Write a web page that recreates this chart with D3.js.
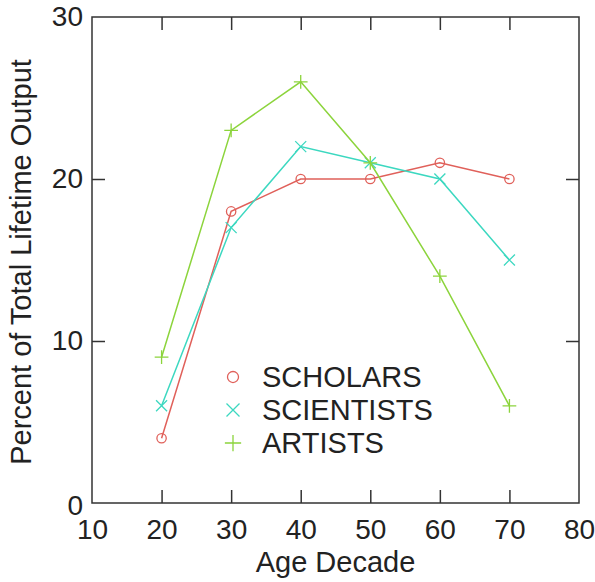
<!DOCTYPE html>
<html><head><meta charset="utf-8">
<script src="https://cdn.jsdelivr.net/npm/d3@7"></script>
<style>body{margin:0;background:#fff}text{font-family:"Liberation Sans",Arial,sans-serif;fill:#222}</style>
</head><body><svg id="c" width="595" height="582"></svg>
<script>
const ages = [20, 30, 40, 50, 60, 70];
const scholars = [4, 18, 20, 20, 21, 20];
const scientists = [6, 17, 22, 21, 20, 15];
const artists = [9, 23, 26, 21, 14, 6];
const xTicks = [10, 20, 30, 40, 50, 60, 70, 80];
const yTicks = [0, 10, 20, 30];
const seriesNames = ["SCHOLARS", "SCIENTISTS", "ARTISTS"];

const series = [
  {name: seriesNames[0], values: scholars, color: "#e0605a", marker: "circle"},
  {name: seriesNames[1], values: scientists, color: "#3cd8c0", marker: "x"},
  {name: seriesNames[2], values: artists, color: "#8cd43c", marker: "plus"}
];

const svg = d3.select("#c");
const L = 92, R = 579, T = 17, B = 503;
const x = d3.scaleLinear().domain([10, 80]).range([L, R]);
const y = d3.scaleLinear().domain([0, 30]).range([B, T]);
const FS = "28px";

// frame
svg.append("rect").attr("x", L).attr("y", T).attr("width", R - L).attr("height", B - T)
  .attr("fill", "none").attr("stroke", "#333").attr("stroke-width", 1.5);

const tl = 13;
const gx = svg.append("g").attr("transform", `translate(0,${B})`)
  .call(d3.axisBottom(x).tickValues(xTicks).tickSize(-tl).tickPadding(16));
const gxt = svg.append("g").attr("transform", `translate(0,${T})`)
  .call(d3.axisTop(x).tickValues(xTicks).tickSize(-tl).tickFormat(""));
const gy = svg.append("g").attr("transform", `translate(${L},0)`)
  .call(d3.axisLeft(y).tickValues(yTicks).tickSize(-tl).tickPadding(9));
const gyr = svg.append("g").attr("transform", `translate(${R},0)`)
  .call(d3.axisRight(y).tickValues(yTicks).tickSize(-tl).tickFormat(""));
[gx, gxt, gy, gyr].forEach(g => {
  g.select(".domain").remove();
  g.selectAll(".tick line").attr("stroke", "#333").attr("stroke-width", 1.5);
  g.selectAll("text").style("font-size", FS).attr("fill", "#222").style("font-family", '"Liberation Sans",Arial,sans-serif');
});
[gx, gxt].forEach(g => g.selectAll(".tick").filter(d => d === 10 || d === 80).select("line").remove());
[gy, gyr].forEach(g => g.selectAll(".tick").filter(d => d === 0 || d === 30).select("line").remove());
gy.selectAll(".tick").filter(d => d === 0).select("text").attr("dy", "0.4em");

// titles
svg.append("text").attr("x", (L + R) / 2).attr("y", 572).attr("text-anchor", "middle")
  .style("font-size", "29px").text("Age Decade");
svg.append("text").attr("transform", `translate(31,${(T + B) / 2 + 2}) rotate(-90)`)
  .attr("text-anchor", "middle").style("font-size", "29px").text("Percent of Total Lifetime Output");

function drawMarker(g, m, cx, cy, color, s) {
  if (m === "circle") {
    g.append("circle").attr("cx", cx).attr("cy", cy).attr("r", s * 0.85)
      .attr("fill", "none").attr("stroke", color).attr("stroke-width", 1.3);
  } else if (m === "x") {
    g.append("path").attr("d", `M${cx - s},${cy - s}L${cx + s},${cy + s}M${cx - s},${cy + s}L${cx + s},${cy - s}`)
      .attr("stroke", color).attr("stroke-width", 1.3);
  } else {
    const p = s * 1.25;
    g.append("path").attr("d", `M${cx - p},${cy}L${cx + p},${cy}M${cx},${cy - p}L${cx},${cy + p}`)
      .attr("stroke", color).attr("stroke-width", 1.3);
  }
}

const line = d3.line().x(d => x(d[0])).y(d => y(d[1]));
series.forEach(s => {
  const pts = ages.map((a, i) => [a, s.values[i]]);
  svg.append("path").attr("d", line(pts)).attr("fill", "none")
    .attr("stroke", s.color).attr("stroke-width", 1.5);
  const g = svg.append("g");
  pts.forEach(p => drawMarker(g, s.marker, x(p[0]), y(p[1]), s.color, 5.5));
});

// legend
const lg = svg.append("g");
series.forEach((s, i) => {
  const cy = 377 + i * 33;
  drawMarker(lg, s.marker, 233, cy, s.color, 6.5);
  lg.append("text").attr("x", 262).attr("y", cy).attr("dy", "0.36em")
    .style("font-size", "29px").text(s.name);
});
</script></body></html>
